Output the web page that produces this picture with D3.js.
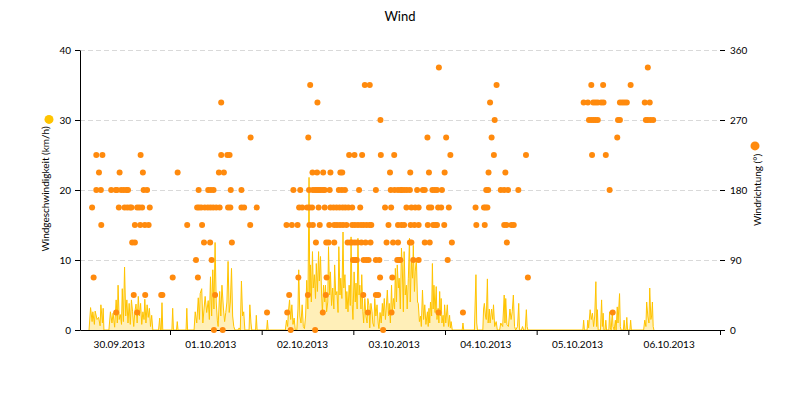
<!DOCTYPE html>
<html><head><meta charset="utf-8">
<script src="https://cdn.jsdelivr.net/npm/d3@7"></script>
<style>
body{margin:0;background:#fff;}
text{font-family:Lato,"Noto Sans",sans-serif;fill:#000;}
</style></head>
<body><svg id="c" width="800" height="400"></svg>
<script>
// ---- DATA ----
const titleText = "Wind";
const leftLabel = "Windgeschwindigkeit (km/h)";
const rightLabel = "Windrichtung (°)";
const dayLabels = ["30.09.2013","01.10.2013","02.10.2013","03.10.2013","04.10.2013","05.10.2013","06.10.2013"];
const speedTicks = [0,10,20,30,40];
const dirTicks = [0,90,180,270,360];
// wind speed: [hours since 30.09.2013 00:00, km/h]
const speed = [
[2.8,0],[3.2,3.2],[3.6,1.2],[3.8,2.6],[4.2,0.8],[4.4,2.7],[4.9,1.5],[5.3,1.8],[5.7,0.6],[5.9,3.6],[6.3,1.0],[6.5,3.1],[6.7,0],
[8.0,0],[8.4,2.6],[8.8,1.0],[9.1,2.4],[9.5,0.4],[9.9,4.3],[10.2,1.0],[10.4,6.4],[10.7,1.5],[11.0,2.2],[11.3,0.8],[11.5,5.9],[11.8,1.2],[12.1,9.0],[12.4,2.0],[12.7,4.3],[13.0,1.0],[13.3,3.8],[13.6,0.8],[13.9,4.3],[14.2,2.6],[14.5,0.5],[14.8,2.6],[15.1,3.7],[15.4,1.0],[15.7,4.8],[16.0,2.0],[16.3,3.8],[16.6,0.8],[16.9,2.6],[17.2,1.5],[17.4,4.4],[17.7,1.0],[18.0,3.6],[18.3,1.8],[18.6,3.1],[18.9,0.5],[19.2,2.1],[19.5,0],
[21.0,0],[21.3,1.7],[21.5,0],[21.7,0],[21.9,3.9],[22.1,0],[24.5,0],[24.7,3.1],[24.9,0],[25.7,0],[25.9,1.2],[26.1,0],[28.2,0],[28.4,3.1],[28.6,0],
[30.3,0],[30.6,2.6],[31.0,1.0],[31.4,4.6],[31.7,1.5],[31.9,5.2],[32.3,5.9],[32.6,1.0],[32.9,3.0],[33.2,4.8],[33.6,2.5],[34.0,4.2],[34.3,1.5],[34.6,7.6],[34.9,2.0],[35.2,8.6],[35.5,3.0],[35.8,12.5],[36.1,4.0],[36.4,1.3],[36.6,0.5],[37.0,5.5],[37.3,2.0],[37.6,6.4],[38.0,3.0],[38.3,1.2],[38.6,2.5],[38.9,4.0],[39.2,9.8],[39.5,2.5],[39.8,4.0],[40.1,8.8],[40.4,2.0],[40.7,0.5],[41.0,0],
[41.8,0],[42.1,0.3],[42.4,0],[42.7,7.0],[43.0,2.0],[43.3,2.6],[43.6,0],[44.7,0],[44.9,3.6],[45.2,1.0],[45.4,0],[46.4,0],[46.6,2.1],[46.8,0],[49.3,0],[49.5,1.4],[49.7,0],
[54.2,0],[54.5,1.4],[54.8,0.5],[55.0,2.6],[55.3,4.3],[55.6,1.5],[55.9,3.6],[56.2,0.8],[56.5,1.7],[56.8,0],[57.2,0],[57.5,3.0],[57.7,8.6],[58.0,2.0],[58.3,1.0],[58.6,3.6],[58.9,0.5],[59.2,0.2],[59.5,2.0],[59.8,7.1],[60.1,3.0],[60.4,21.8],[60.6,5.0],[60.8,9.3],[61.0,4.0],[61.3,11.2],[61.5,6.0],[61.8,7.9],[62.1,4.5],[62.3,9.5],[62.6,5.5],[62.9,11.2],[63.1,7.0],[63.4,10.5],[63.7,5.0],[63.9,2.5],[64.2,6.4],[64.5,4.0],[64.7,6.4],[65.0,2.6],[65.3,4.0],[65.5,11.9],[65.8,5.0],[66.0,8.3],[66.3,3.5],[66.6,6.0],[66.9,3.0],[67.1,9.3],[67.4,5.0],[67.7,5.5],[68.0,2.5],[68.2,11.9],[68.5,5.0],[68.7,7.4],[69.0,4.5],[69.3,14.0],[69.5,6.0],[69.8,7.9],[70.1,3.0],[70.3,5.5],[70.6,2.6],[70.9,6.4],[71.2,3.5],[71.4,13.3],[71.7,3.6],[71.9,1.5],[72.2,8.3],[72.5,4.0],[72.7,6.7],[73.0,3.0],[73.2,13.1],[73.5,5.0],[73.7,6.4],[74.0,3.0],[74.2,7.9],[74.5,2.6],[74.7,1.0],[75.0,4.5],[75.3,2.0],[75.6,1.0],[75.8,4.5],[76.1,3.5],[76.3,0.3],[76.6,3.8],[76.9,2.6],[77.1,1.0],[77.4,0.5],[77.6,4.5],[77.9,2.0],[78.2,3.6],[78.5,1.0],[78.7,0.2],[79.0,2.5],[79.3,1.0],[79.6,3.8],[79.8,2.0],[80.1,4.5],[80.4,1.5],[80.6,3.0],[80.9,5.7],[81.2,2.0],[81.4,3.8],[81.7,1.0],[82.0,6.4],[82.2,2.5],[82.5,4.5],[82.8,3.0],[83.0,8.8],[83.3,4.0],[83.5,9.3],[83.8,6.0],[84.0,7.4],[84.3,3.0],[84.6,11.7],[84.8,9.3],[85.1,2.6],[85.3,11.2],[85.6,5.0],[85.9,6.4],[86.1,3.0],[86.4,7.4],[86.7,13.1],[86.9,4.0],[87.2,9.8],[87.5,7.4],[87.7,12.1],[88.0,5.5],[88.2,8.3],[88.5,10.2],[88.8,4.0],[89.0,3.8],[89.3,1.2],[89.6,2.0],[89.8,0.5],[90.1,5.7],[90.4,1.5],[90.7,3.6],[91.0,0.8],[91.4,2.6],[91.6,0.5],[91.8,3.1],[92.0,1.0],[92.2,4.0],[92.5,2.0],[92.7,9.5],[92.9,3.0],[93.1,6.4],[93.4,2.5],[93.7,6.2],[93.9,1.5],[94.2,3.1],[94.4,1.0],[94.6,5.5],[94.8,2.0],[95.0,4.5],[95.2,1.0],[95.5,2.1],[95.7,0.5],[95.9,3.6],[96.2,1.0],[96.6,3.6],[96.9,0.5],[97.2,2.1],[97.4,0.3],[97.6,1.2],[97.9,0],
[100.5,0],[100.7,1.0],[100.9,0],
[103.7,0],[103.9,4.0],[104.1,7.9],[104.3,1.0],[104.5,0],[105.9,0],[106.1,3.0],[106.3,3.8],[106.6,2.0],[106.8,1.5],[107.1,7.3],[107.3,1.0],[107.6,3.0],[107.8,1.0],[108.2,3.0],[108.5,1.5],[108.7,3.6],[109.0,0.5],[109.4,1.2],[109.7,0],[110.3,0],[110.6,1.0],[111.1,0.5],[111.5,5.0],[111.7,1.0],[111.9,4.5],[112.2,0.8],[112.6,0.5],[113.0,3.0],[113.3,1.5],[113.6,2.6],[113.9,5.0],[114.2,0.5],[114.5,0],[115.0,0.5],[115.3,3.8],[115.5,0],[116.0,0],[116.3,0.5],[116.6,0],[117.0,0],[117.3,2.9],[117.5,0.5],[117.7,0],
[132.1,0],[132.3,1.4],[132.5,0],[133.2,0],[133.4,1.4],[133.6,0.3],[134.0,2.9],[134.3,1.5],[134.6,2.4],[134.9,0.5],[135.2,2.0],[135.5,6.9],[135.7,0.5],[135.9,2.9],[136.1,0],[136.7,0],[137.0,4.3],[137.2,0.5],[137.4,2.4],[137.6,0],[137.9,0],[138.1,1.4],[138.3,0],[138.9,0],[139.1,2.6],[139.3,0.3],[139.5,0],[139.8,2.6],[140.0,0.5],[140.3,0],[140.6,1.4],[140.8,0],[141.1,3.3],[141.3,1.0],[141.7,5.2],[141.9,0.5],[142.1,0],[142.7,0],[142.9,1.4],[143.1,0],[143.4,0],[143.6,1.8],[143.8,0],[144.4,0],[144.6,1.4],[144.8,0],
[148.0,0],[148.3,1.4],[148.6,0.5],[148.8,4.0],[149.1,2.0],[149.4,1.0],[149.6,6.0],[149.9,1.5],[150.1,2.0],[150.3,4.0],[150.5,0.5],[150.7,0]
];
// wind direction: [hours since 30.09.2013 00:00, degrees]
const direction = [
[3.6,157.5],[4.0,67.5],[4.7,225],[4.7,180],[5.4,202.5],[5.9,180],[6.0,135],[6.3,225],
[8.6,180],[9.8,180],[10.1,180],[9.9,22.5],[10.6,157.5],[10.8,202.5],[11.2,180],[11.9,180],[12.6,180],[13.0,180],
[12.1,157.5],[12.8,157.5],[13.5,157.5],[13.9,157.5],
[14.1,112.5],[14.8,112.5],[14.5,45],[14.8,135],[16.2,135],[17.4,135],[18.4,135],
[15.4,22.5],[15.4,157.5],[16.0,157.5],[16.7,157.5],[16.3,225],[16.9,202.5],[17.1,180],[18.0,180],[17.5,45],[18.7,157.5],
[21.7,45],[22.0,45],[24.7,67.5],[26.0,202.5],[28.5,135],
[30.8,90],[31.1,157.5],[31.6,157.5],[32.2,157.5],[31.3,67.5],[31.5,180],[32.4,135],[32.9,112.5],
[33.1,157.5],[33.9,157.5],[34.6,157.5],[35.3,157.5],[36.1,157.5],[37.0,157.5],
[34.0,180],[34.7,180],[35.4,180],[34.5,112.5],[34.9,90],[35.5,0],[35.8,45],[36.8,202.5],[37.4,292.5],[37.4,225],[38.1,202.5],[37.8,0],
[39.0,225],[39.6,225],[39.2,157.5],[39.8,157.5],[39.9,180],[40.2,112.5],
[42.7,180],[42.7,157.5],[43.4,157.5],[45.1,247.5],[45.0,135],[46.7,157.5],[49.4,22.5],
[54.5,135],[54.7,22.5],[55.2,45],[55.6,0],[55.9,135],[56.3,180],[57.4,135],[57.6,67.5],[57.8,157.5],[58.6,157.5],[58.1,180],
[60.1,45],[60.2,247.5],[60.4,180],[59.9,157.5],[60.5,157.5],[61.2,157.5],[60.5,135],[61.4,135],[60.7,315],[61.3,202.5],[62.0,0],[62.2,112.5],[62.5,202.5],[62.6,292.5],
[61.4,180],[62.0,180],[62.5,180],[63.0,180],[63.5,180],[64.1,180],[64.5,180],
[62.9,157.5],[63.2,135],[64.0,22.5],[64.1,202.5],[64.5,157.5],[64.8,45],[65.0,67.5],[64.9,112.5],[65.5,112.5],[65.7,135],[65.8,180],[66.0,202.5],[67.0,112.5],
[66.0,157.5],[66.8,157.5],[67.6,157.5],[68.4,157.5],[69.2,157.5],[69.9,157.5],[70.7,157.5],[71.7,157.5],
[67.0,135],[67.7,135],[68.5,135],[69.3,135],[70.2,135],
[68.2,180],[69.0,180],[69.8,180],[68.6,202.5],[69.1,202.5],
[70.5,112.5],[71.2,112.5],[71.7,112.5],[72.4,112.5],[73.1,112.5],
[70.9,225],[72.3,225],[71.9,90],[72.4,90],[72.9,90],
[71.7,135],[72.4,135],[73.2,135],[74.0,135],[74.7,135],[75.5,135],[76.3,135],[76.7,135],
[73.5,180],[73.8,157.5],[74.1,112.5],[75.2,112.5],[76.5,112.5],[74.3,225],[74.6,45],[75.0,315],[76.3,315],[74.7,90],[75.4,90],[76.0,90],[75.8,22.5],
[77.9,180],[77.9,45],[78.5,45],[77.9,90],[78.8,90],[79.1,270],[79.0,67.5],[79.2,225],[79.8,0],[80.3,157.5],[80.7,112.5],[81.2,135],[81.6,202.5],[81.9,157.5],[82.0,22.5],[81.8,180],[82.8,180],[82.2,67.5],[82.7,225],[82.4,112.5],[83.7,112.5],[83.7,135],[84.6,135],[83.5,90],[84.3,90],[84.6,180],
[83.7,180],[84.5,180],[85.3,180],[86.0,180],[86.8,180],[85.3,135],[84.0,90],[85.9,157.5],[86.8,112.5],[87.2,112.5],[86.9,202.5],[87.2,157.5],[88.2,157.5],[89.1,157.5],[87.0,135],[88.0,135],[89.1,135],[87.7,90],[89.1,90],[88.7,180],
[90.2,180],[90.7,180],[90.7,112.5],[91.4,247.5],[91.5,135],[91.8,202.5],[91.8,157.5],[92.4,157.5],[92.0,112.5],[92.7,180],[93.3,180],[93.9,180],[92.9,135],[93.5,135],[93.9,135],[94.2,157.5],[95.0,157.5],[94.4,337.5],[94.3,22.5],[95.2,180],[95.8,135],[95.9,202.5],[96.3,247.5],[96.7,90],[97.0,157.5],[97.4,225],[97.8,112.5],
[100.7,22.5],[104.0,157.5],[104.2,135],[106.2,157.5],[106.6,157.5],[107.1,157.5],[106.4,135],[106.8,180],[107.3,180],[107.4,202.5],[107.8,292.5],[108.2,247.5],[108.8,225],[109.0,270],[109.5,315],
[110.6,180],[111.5,180],[112.5,180],[111.5,135],[112.1,135],[111.8,202.5],[112.2,112.5],[113.4,135],[114.0,135],[115.2,180],[117.2,225],[117.7,67.5],
[132.3,292.5],[133.4,292.5],[133.7,270],[134.3,270],[134.9,270],[135.4,270],[136.0,270],[134.3,315],[134.5,225],[134.8,292.5],[135.4,292.5],[136.0,292.5],[136.9,292.5],[137.5,292.5],[137.4,315],[138.1,225],[139.1,180],[139.9,22.5],[141.1,247.5],[141.3,270],[141.8,270],[141.8,292.5],[142.4,292.5],[143.0,292.5],[143.6,292.5],[144.6,315],[148.3,292.5],[149.6,292.5],[148.6,270],[149.1,270],[149.8,270],[150.5,270],[149.1,337.5]
];

// ---- CHART ----
const T0 = Date.UTC(2013,8,30);
const toDate = h => new Date(T0 + h*3600000);
const svg = d3.select("#c");
const L=80, R=720, Tp=50, B=330;
const x = d3.scaleUtc().domain([new Date(Date.UTC(2013,8,30,0,26)), new Date(Date.UTC(2013,9,7))]).range([L,R]);
const y = d3.scaleLinear().domain([0,40]).range([B,Tp]);
const yd = d3.scaleLinear().domain([0,360]).range([B,Tp]);
const spColor = "#FFC400", dirColor = "#FF8A0D";

svg.append("text").attr("x",400).attr("y",21).attr("text-anchor","middle").style("font-size","13px").text(titleText);

// grid
svg.append("g").selectAll("line").data(speedTicks.filter(d=>d>0)).join("line")
  .attr("x1",L).attr("x2",R).attr("y1",d=>y(d)+0.5).attr("y2",d=>y(d)+0.5)
  .attr("stroke","#d9d9d9").attr("stroke-dasharray","5,3");

// speed
const area = d3.area().x(d=>x(toDate(d[0]))).y0(B).y1(d=>y(d[1]));
const line = d3.line().x(d=>x(toDate(d[0]))).y(d=>y(d[1]));
svg.append("path").datum(speed).attr("d",area).attr("fill",spColor).attr("fill-opacity",0.28);
svg.append("path").datum(speed).attr("d",line).attr("fill","none").attr("stroke",spColor).attr("stroke-width",1);

// axes
const xAxis = svg.append("g").attr("transform",`translate(0,${B})`)
  .call(d3.axisBottom(x).tickValues(d3.utcDay.range(new Date(Date.UTC(2013,9,1)), new Date(Date.UTC(2013,9,7,1)))).tickSize(5).tickSizeOuter(0).tickFormat(""));
xAxis.select(".domain").attr("stroke","#000");
svg.append("g").selectAll("text").data(dayLabels).join("text")
  .attr("x",(d,i)=>x(toDate(i*24+12))-5).attr("y",348).attr("text-anchor","middle").style("font-size","10px").text(d=>d);

const yAxisL = svg.append("g").attr("transform",`translate(${L},0)`)
  .call(d3.axisLeft(y).tickValues(speedTicks).tickSize(5).tickSizeOuter(0));
yAxisL.selectAll("text").style("font-size","10px").style("font-family","Lato").attr("x",-9);
const yAxisR = svg.append("g").attr("transform",`translate(${R},0)`)
  .call(d3.axisRight(yd).tickValues(dirTicks).tickSize(5).tickSizeOuter(0));
yAxisR.select(".domain").remove();
yAxisR.selectAll("text").style("font-size","10px").style("font-family","Lato").attr("x",10);

// direction dots
svg.append("g").selectAll("circle").data(direction).join("circle")
  .attr("cx",d=>x(toDate(d[0]))).attr("cy",d=>yd(d[1])).attr("r",3).attr("fill",dirColor);

// axis titles with legend dots
const lt = svg.append("text").attr("transform","translate(49,189) rotate(-90)").attr("text-anchor","middle").style("font-size","10px").text(leftLabel);
const ll = lt.node().getComputedTextLength();
svg.append("circle").attr("cx",49).attr("cy",189-ll/2-7).attr("r",4.5).attr("fill",spColor);
const rt = svg.append("text").attr("transform","translate(761,190) rotate(-90)").attr("text-anchor","middle").style("font-size","10px").text(rightLabel);
const rl = rt.node().getComputedTextLength();
svg.append("circle").attr("cx",755).attr("cy",190-rl/2-8).attr("r",4.5).attr("fill",dirColor);
</script></body></html>
